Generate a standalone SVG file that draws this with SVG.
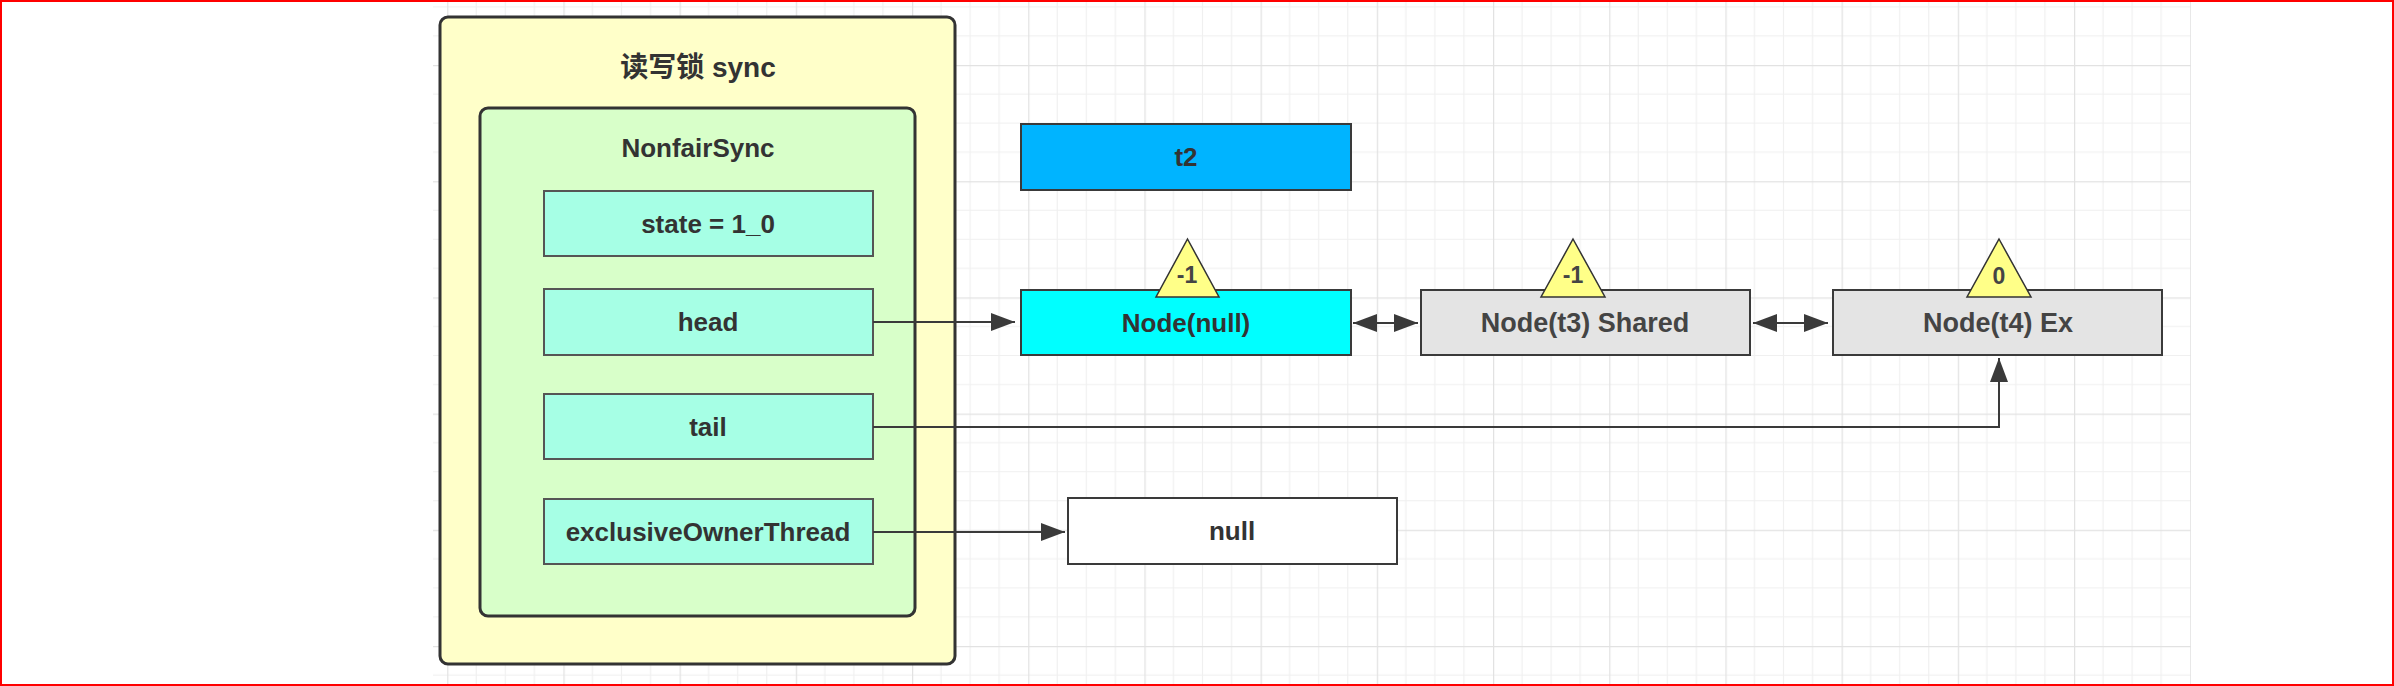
<svg xmlns="http://www.w3.org/2000/svg" width="2394" height="686" viewBox="0 0 2394 686">
  <style>
    text { font-family: "Liberation Sans", "Noto Sans CJK SC", sans-serif; fill: #333333; text-anchor: middle; }
    .lbl { font-size: 26px; font-weight: bold; }
    .lblg { font-size: 27px; font-weight: bold; fill: #444444; }
    .title { font-size: 28px; font-weight: bold; }
    .tri { fill: #ffff88; stroke: #333333; stroke-width: 1.5; }
    .tritxt { font-size: 23px; font-weight: bold; fill: #444444; }
    .field { fill: #a6ffe5; stroke: #555555; stroke-width: 2; }
    .node { stroke: #3a3a3a; stroke-width: 2; }
    .conn { fill: none; stroke: #3a3a3a; stroke-width: 2; }
  </style>
  <defs>
    <pattern id="grid" patternUnits="userSpaceOnUse" x="447.2" y="-51.2" width="116.2" height="116.2">
      <path d="M29.05 0V116.2M58.1 0V116.2M87.15 0V116.2M0 29.05H116.2M0 58.1H116.2M0 87.15H116.2" stroke="#f0f0f0" stroke-width="1.2" fill="none"/>
      <path d="M0.5 0V116.2M0 0.5H116.2" stroke="#e2e2e2" stroke-width="1.5" fill="none"/>
    </pattern>
    <marker id="arr" markerUnits="userSpaceOnUse" markerWidth="26" markerHeight="20" refX="24" refY="9" orient="auto">
      <path d="M0 0L24 9L0 18Z" fill="#3a3a3a"/>
    </marker>
    <marker id="arrStart" markerUnits="userSpaceOnUse" markerWidth="26" markerHeight="20" refX="0" refY="9" orient="auto">
      <path d="M0 9L24 0L24 18Z" fill="#3a3a3a"/>
    </marker>
  </defs>

  <rect x="0" y="0" width="2394" height="686" fill="#ffffff"/>
  <rect x="433" y="0" width="1758" height="686" fill="url(#grid)"/>
  <rect x="1" y="1" width="2392" height="684" fill="none" stroke="#ff0000" stroke-width="2"/>

  <g id="sync">
    <rect x="440" y="17" width="515" height="647" rx="8" fill="#ffffc9" stroke="#333333" stroke-width="3"/>
    <text class="title" x="698" y="77">读写锁 sync</text>
  </g>
  <g id="nonfairsync">
    <rect x="480" y="108" width="435" height="508" rx="8" fill="#d8ffc9" stroke="#333333" stroke-width="3"/>
    <text class="lbl" x="698" y="157">NonfairSync</text>
  </g>
  <g id="state">
    <rect class="field" x="544" y="191" width="329" height="65"/>
    <text class="lbl" x="708" y="233">state = 1_0</text>
  </g>
  <g id="head">
    <rect class="field" x="544" y="289" width="329" height="66"/>
    <text class="lbl" x="708" y="331">head</text>
  </g>
  <g id="tail">
    <rect class="field" x="544" y="394" width="329" height="65"/>
    <text class="lbl" x="708" y="436">tail</text>
  </g>
  <g id="exclusiveOwnerThread">
    <rect class="field" x="544" y="499" width="329" height="65"/>
    <text class="lbl" x="708" y="541">exclusiveOwnerThread</text>
  </g>

  <g id="t2">
    <rect class="node" x="1021" y="124" width="330" height="66" fill="#00b4ff"/>
    <text class="lbl" x="1186" y="166">t2</text>
  </g>
  <g id="node-null">
    <rect class="node" x="1021" y="290" width="330" height="65" fill="#00ffff"/>
    <text class="lbl" x="1186" y="332">Node(null)</text>
  </g>
  <g id="node-t3">
    <rect class="node" x="1421" y="290" width="329" height="65" fill="#e4e4e4"/>
    <text class="lblg" x="1585" y="332">Node(t3) Shared</text>
  </g>
  <g id="node-t4">
    <rect class="node" x="1833" y="290" width="329" height="65" fill="#e4e4e4"/>
    <text class="lblg" x="1998" y="332">Node(t4) Ex</text>
  </g>
  <g id="null">
    <rect class="node" x="1068" y="498" width="329" height="66" fill="#ffffff"/>
    <text class="lbl" x="1232" y="540">null</text>
  </g>

  <g id="connectors">
    <path class="conn" d="M873 322H1015" marker-end="url(#arr)"/>
    <path class="conn" d="M873 427H1999V358" marker-end="url(#arr)"/>
    <path class="conn" d="M873 532H1065" marker-end="url(#arr)"/>
    <path class="conn" d="M1353 323H1418" marker-start="url(#arrStart)" marker-end="url(#arr)"/>
    <path class="conn" d="M1753 323H1828" marker-start="url(#arrStart)" marker-end="url(#arr)"/>
  </g>

  <g id="badge-null">
    <path class="tri" d="M1187.5 239L1219 297H1156Z"/>
    <text class="tritxt" x="1187" y="283">-1</text>
  </g>
  <g id="badge-t3">
    <path class="tri" d="M1573 239L1605 297H1541Z"/>
    <text class="tritxt" x="1573" y="283">-1</text>
  </g>
  <g id="badge-t4">
    <path class="tri" d="M1999 239L2031 297H1967Z"/>
    <text class="tritxt" x="1999" y="284">0</text>
  </g>
</svg>
